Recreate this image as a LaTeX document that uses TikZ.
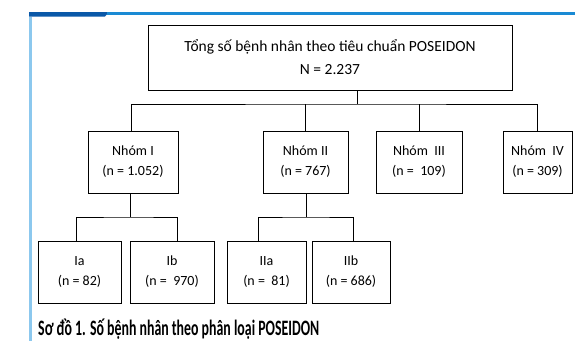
\documentclass[tikz,border=0pt]{standalone}
\usepackage{fontspec}
\setmainfont{Carlito}
\newfontfamily\capfont{Carlito}[FakeStretch=0.63]
\usepackage{tikz}
\definecolor{bardark}{HTML}{0A58A8}
\definecolor{barlight}{HTML}{1A8AD4}
\definecolor{sideblue}{HTML}{8CC8EE}
\tikzstyle{box} = [draw, line width=1pt, inner sep=0pt, align=center, minimum height=62pt, font=\fontsize{14}{20}\selectfont]
\tikzstyle{link} = [line width=1pt]

\begin{document}
\begin{tikzpicture}[x=1pt, y=-1pt]
\useasboundingbox (0,0) rectangle (575,341);
% frame
\fill[bardark] (29,12) -- (109,12) -- (105,16.5) -- (29,16.5) -- cycle;
\fill[barlight] (107,12) rectangle (575,15);
\fill[sideblue] (29,16.5) rectangle (31.5,341);
% boxes
\node[box, minimum width=364pt, minimum height=65pt,
    font=\fontsize{15.5}{23}\selectfont] (total) at (330,57.5)
    {Tổng số bệnh nhân theo tiêu chuẩn POSEIDON\\N = 2.237};
\node[box, minimum width=90pt] (g1) at (133,162) {Nhóm I\\(n = 1.052)};
\node[box, minimum width=85pt] (g2) at (305.5,162) {Nhóm II\\(n = 767)};
\node[box, minimum width=86pt] (g3) at (419,162) {Nhóm\ \ III\\(n = \ 109)};
\node[box, minimum width=69pt] (g4) at (537.5,162) {Nhóm\ \ IV\\(n = 309)};
\node[box, minimum width=83pt] (Ia) at (79.5,272) {Ia\\(n = 82)};
\node[box, minimum width=84pt] (Ib) at (172,272) {Ib\\(n = \ 970)};
\node[box, minimum width=79pt] (IIa) at (266.5,272) {IIa\\(n = \ 81)};
\node[box, minimum width=78pt] (IIb) at (351,272) {IIb\\(n = 686)};
% connectors
\coordinate (top) at (357,104);
\coordinate (s1) at (130,217);
\coordinate (s2) at (306,217);
\draw[link] (total.south -| top) -- (top);
\draw[link] ([xshift=-2pt]g1.north) |- (top) -| (g4.north);
\draw[link] (g2.north) -- (g2.north |- top);
\draw[link] (g3.north) -- (g3.north |- top);
\draw[link] (g1.south -| s1) -- (s1);
\draw[link] ([xshift=-3.5pt]Ia.north) |- (s1) -| ([xshift=5pt]Ib.north);
\draw[link] (g2.south -| s2) -- (s2);
\draw[link] ([xshift=-8.5pt]IIa.north) |- (s2) -| ([xshift=2pt]IIb.north);
% caption
\node[anchor=base west, inner sep=0pt, font=\capfont\bfseries\fontsize{22}{22}\selectfont]
    (cap) at (38,335) {Sơ đồ 1. Số bệnh nhân theo phân loại POSEIDON};
\end{tikzpicture}
\end{document}
